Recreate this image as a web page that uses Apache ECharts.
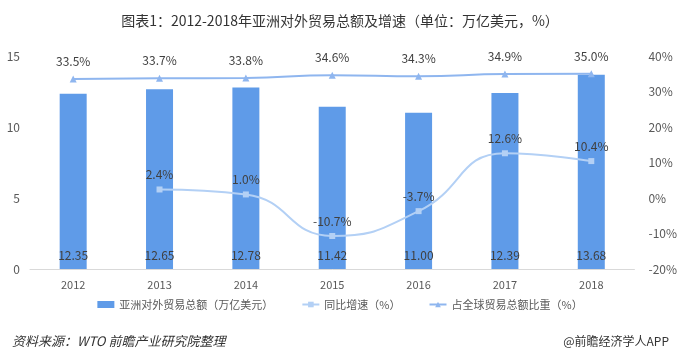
<!DOCTYPE html>
<html><head><meta charset="utf-8">
<script src="https://cdn.jsdelivr.net/npm/echarts@6/dist/echarts.min.js"></script>
<style>html,body{margin:0;padding:0;background:#fff}#c{width:680px;height:357px}</style>
</head><body><div id="c"></div>
<script>
var categories = ['2012','2013','2014','2015','2016','2017','2018'];
var tradeTotal = [12.35, 12.65, 12.78, 11.42, 11.00, 12.39, 13.68];
var growth = [null, 2.4, 1.0, -10.7, -3.7, 12.6, 10.4];
var share = [33.5, 33.7, 33.8, 34.6, 34.3, 34.9, 35.0];
var leftTicks = [0, 5, 10, 15];
var rightTicks = [-20, -10, 0, 10, 20, 30, 40];

var font = '"Noto Sans CJK SC", "Noto Sans", sans-serif';
var chart = echarts.init(document.getElementById('c'));
chart.setOption({
  animation: false,
  textStyle: {fontFamily: font},
  title: [
    {text: '图表1：2012-2018年亚洲对外贸易总额及增速（单位：万亿美元，%）', left: 'center', top: 9,
     textStyle: {fontSize: 14, fontWeight: 'normal', color: '#333', fontFamily: font}},
    {text: '资料来源：WTO 前瞻产业研究院整理', left: 7, top: 330,
     textStyle: {fontSize: 13, fontWeight: 'normal', fontStyle: 'italic', color: '#333', fontFamily: font}},
    {text: '@前瞻经济学人APP', right: 6, top: 330,
     textStyle: {fontSize: 12, fontWeight: 'normal', color: '#333', fontFamily: font}}
  ],
  legend: {
    bottom: 42, left: 'center', itemGap: 28, itemWidth: 17, itemHeight: 7,
    textStyle: {fontSize: 11, color: '#595959'},
    data: [
      {name: '亚洲对外贸易总额（万亿美元）', icon: 'rect'},
      {name: '同比增速（%）'},
      {name: '占全球贸易总额比重（%）'}
    ]
  },
  grid: {left: 30, right: 40, top: 56, bottom: 88},
  xAxis: {
    type: 'category', data: categories,
    axisLine: {lineStyle: {color: '#d9d9d9'}}, axisTick: {show: false},
    axisLabel: {color: '#595959', fontSize: 11, margin: 10}
  },
  yAxis: [
    {type: 'value', min: leftTicks[0], max: leftTicks[leftTicks.length-1], interval: 5,
     splitLine: {show: false}, axisLine: {show: false}, axisTick: {show: false},
     axisLabel: {color: '#595959', fontSize: 12, margin: 10}},
    {type: 'value', min: rightTicks[0], max: rightTicks[rightTicks.length-1], interval: 10,
     splitLine: {show: false}, axisLine: {show: false}, axisTick: {show: false},
     axisLabel: {color: '#595959', fontSize: 12, margin: 14, formatter: '{value}%'}}
  ],
  series: [
    {name: '亚洲对外贸易总额（万亿美元）', type: 'bar', data: tradeTotal, barWidth: 27,
     itemStyle: {color: '#5f9be8'},
     label: {show: true, position: 'insideBottom', distance: 8, color: '#404040', fontSize: 12,
       formatter: function(p){return p.value.toFixed(2);}}},
    {name: '同比增速（%）', type: 'line', yAxisIndex: 1, data: growth, smooth: true,
     symbol: 'rect', symbolSize: 6, connectNulls: false,
     lineStyle: {color: '#b3d0f5', width: 2}, itemStyle: {color: '#b3d0f5'},
     label: {show: true, position: 'top', distance: 6, color: '#404040', fontSize: 12,
       formatter: function(p){return p.value.toFixed(1) + '%';}}},
    {name: '占全球贸易总额比重（%）', type: 'line', yAxisIndex: 1, data: share, smooth: true,
     symbol: 'triangle', symbolSize: 7,
     lineStyle: {color: '#8fb6ef', width: 2}, itemStyle: {color: '#8fb6ef'},
     label: {show: true, position: 'top', distance: 8, color: '#404040', fontSize: 12,
       formatter: function(p){return p.value.toFixed(1) + '%';}}}
  ]
});
</script></body></html>
